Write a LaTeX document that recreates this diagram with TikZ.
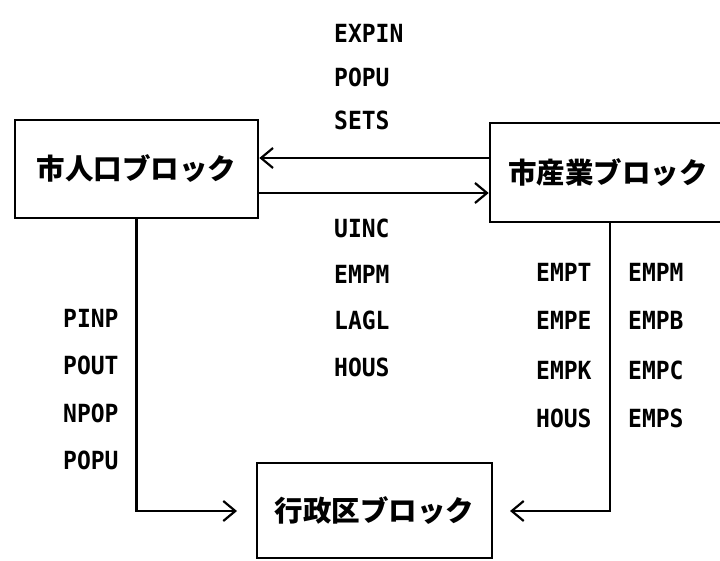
\documentclass[tikz,border=0pt]{standalone}
\usepackage{fontspec}
\usetikzlibrary{arrows.meta}
\newfontfamily\jpfont{Noto Sans CJK JP}
\newfontfamily\lblfont{DejaVu Sans Mono}[FakeStretch=0.92]
\begin{document}
\begin{tikzpicture}[x=1pt,y=-1pt,
  blk/.style={draw, line width=2.6pt, inner sep=0pt, font=\jpfont\bfseries\fontsize{28.5}{29}\selectfont},
  lab/.style={font=\lblfont\bfseries\fontsize{25}{25}\selectfont, inner sep=0pt, anchor=west},
  conn/.style={line width=2.6pt},
  arr/.style={conn, -{Straight Barb[length=12pt,width=20pt,line width=2.2pt]}}
]
\useasboundingbox (0,0) rectangle (720,561);
% blocks
\node[blk, minimum width=243pt, minimum height=98pt] (pop) at (136.5,169) {市人口ブロック};
\begin{scope}
\clip (0,0) rectangle (720,561);
\node[blk, minimum width=236pt, minimum height=99pt] (ind) at (608,172.5) {市産業ブロック};
\end{scope}
\node[blk, minimum width=235pt, minimum height=95pt] (adm) at (374.5,510.5) {行政区ブロック};
% helper coordinates
\coordinate (t1) at (0,158);
\coordinate (t2) at (0,193);
\coordinate (c1) at (136.5,511);
\coordinate (c2) at (610,223);
\coordinate (c3) at (610,511);
\coordinate (e1) at (237,511);
\coordinate (e2) at (510,511);
% connectors
\draw[arr] (ind.west |- t1) -- (pop.east |- t1);
\draw[arr] (pop.east |- t2) -- (ind.west |- t2);
\draw[arr] (pop.south) -- (c1) -- (e1);
\draw[arr] (c2) -- (c3) -- (e2);
% labels above the arrows
\node[lab] (l1) at (334,33) {EXPIN};
\node[lab] (l2) at (334,77) {POPU};
\node[lab] (l3) at (334,120) {SETS};
% labels below the arrows
\node[lab] (m1) at (334,228) {UINC};
\node[lab] (m2) at (334,274) {EMPM};
\node[lab] (m3) at (334,320) {LAGL};
\node[lab] (m4) at (334,367) {HOUS};
% left column
\node[lab] (p1) at (63,318) {PINP};
\node[lab] (p2) at (63,365) {POUT};
\node[lab] (p3) at (63,413) {NPOP};
\node[lab] (p4) at (63,460) {POPU};
% right columns
\node[lab] (r1) at (536,272) {EMPT};
\node[lab] (r2) at (536,320) {EMPE};
\node[lab] (r3) at (536,370) {EMPK};
\node[lab] (r4) at (536,418) {HOUS};
\node[lab] (s1) at (628,272) {EMPM};
\node[lab] (s2) at (628,320) {EMPB};
\node[lab] (s3) at (628,370) {EMPC};
\node[lab] (s4) at (628,418) {EMPS};
\end{tikzpicture}
\end{document}
